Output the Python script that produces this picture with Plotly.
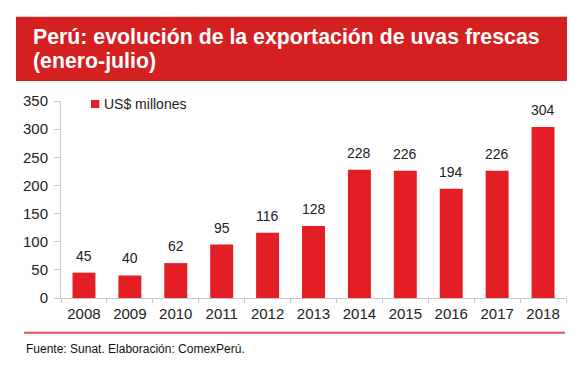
import plotly.graph_objects as go

years = ["2008", "2009", "2010", "2011", "2012", "2013", "2014", "2015", "2016", "2017", "2018"]
values = [45, 40, 62, 95, 116, 128, 228, 226, 194, 226, 304]
y_ticks = [0, 50, 100, 150, 200, 250, 300, 350]
series_name = "US$ millones"
title_line1 = "Perú: evolución de la exportación de uvas frescas"
title_line2 = "(enero-julio)"
source_text = "Fuente: Sunat. Elaboración: ComexPerú."

W, H = 587, 369
L, R, T, B = 61, 21, 101, 71
pw, ph = W - L - R, H - T - B

def px(x):
    return (x - L) / pw

def py(y):
    return (H - B - y) / ph

BAR = "#e31e24"
AXIS = "#c8c8c8"
FONT = "Liberation Sans, Arial, sans-serif"

fig = go.Figure()
fig.add_trace(go.Bar(
    x=years, y=values, name=series_name,
    marker=dict(color=BAR, line=dict(width=0)),
    width=0.5,
    showlegend=False,
))

annotations = [
    dict(text="<b>" + title_line1 + "</b>", xref="paper", yref="paper",
         x=px(31), y=py(37.5), xanchor="left", yanchor="middle", align="left",
         showarrow=False, font=dict(size=21.3, color="white", family=FONT)),
    dict(text="<b>" + title_line2 + "</b>", xref="paper", yref="paper",
         x=px(31), y=py(60.5), xanchor="left", yanchor="middle", align="left",
         showarrow=False, font=dict(size=21.3, color="white", family=FONT)),
    dict(text=source_text, xref="paper", yref="paper",
         x=px(24), y=py(349), xanchor="left", yanchor="middle",
         showarrow=False, font=dict(size=12, color="#111111", family=FONT)),
    dict(text=series_name, xref="paper", yref="paper",
         x=px(102), y=py(103.5), xanchor="left", yanchor="middle",
         showarrow=False, font=dict(size=14, color="#222222", family=FONT)),
]
# category axis: annotation x given as the category's serial index
for i, v in enumerate(values):
    annotations.append(dict(
        text=str(v), x=i, y=v, xref="x", yref="y",
        xanchor="center", yanchor="bottom", yshift=7,
        showarrow=False, font=dict(size=14, color="#222222", family=FONT)))

fig.update_layout(
    width=W, height=H,
    margin=dict(l=L, r=R, t=T, b=B, autoexpand=False),
    paper_bgcolor="white", plot_bgcolor="white",
    font=dict(family=FONT, color="#222222"),
    showlegend=False,
    bargap=0.5,
    xaxis=dict(
        type="category",
        range=[-0.5, len(years) - 0.5],
        showline=True, linecolor=AXIS, linewidth=1,
        ticks="outside", ticklen=4, tickcolor=AXIS,
        tickson="boundaries", ticklabelstandoff=2,
        tickfont=dict(size=15, color="#222222"),
        showgrid=False, fixedrange=True,
    ),
    yaxis=dict(
        range=[0, 350], tickvals=y_ticks,
        showline=True, linecolor=AXIS, linewidth=1,
        ticks="outside", ticklen=6, tickcolor=AXIS,
        ticklabelstandoff=3,
        tickfont=dict(size=15, color="#222222"),
        showgrid=False, zeroline=False, fixedrange=True,
    ),
    shapes=[
        dict(type="rect", xref="paper", yref="paper",
             x0=px(16), x1=px(567), y0=py(16.7), y1=py(81),
             fillcolor="#d42020", line=dict(width=0), layer="below"),
        dict(type="line", xref="paper", yref="paper",
             x0=px(24), x1=px(565), y0=py(332.7), y1=py(332.7),
             line=dict(color="#e85050", width=2)),
        dict(type="rect", xref="paper", yref="paper",
             x0=px(91), x1=px(99.3), y0=py(100), y1=py(108),
             fillcolor=BAR, line=dict(width=0)),
    ],
    annotations=annotations,
)

fig.write_html("out.html", config={"displayModeBar": False},
               post_script="document.body.style.margin='0';")
